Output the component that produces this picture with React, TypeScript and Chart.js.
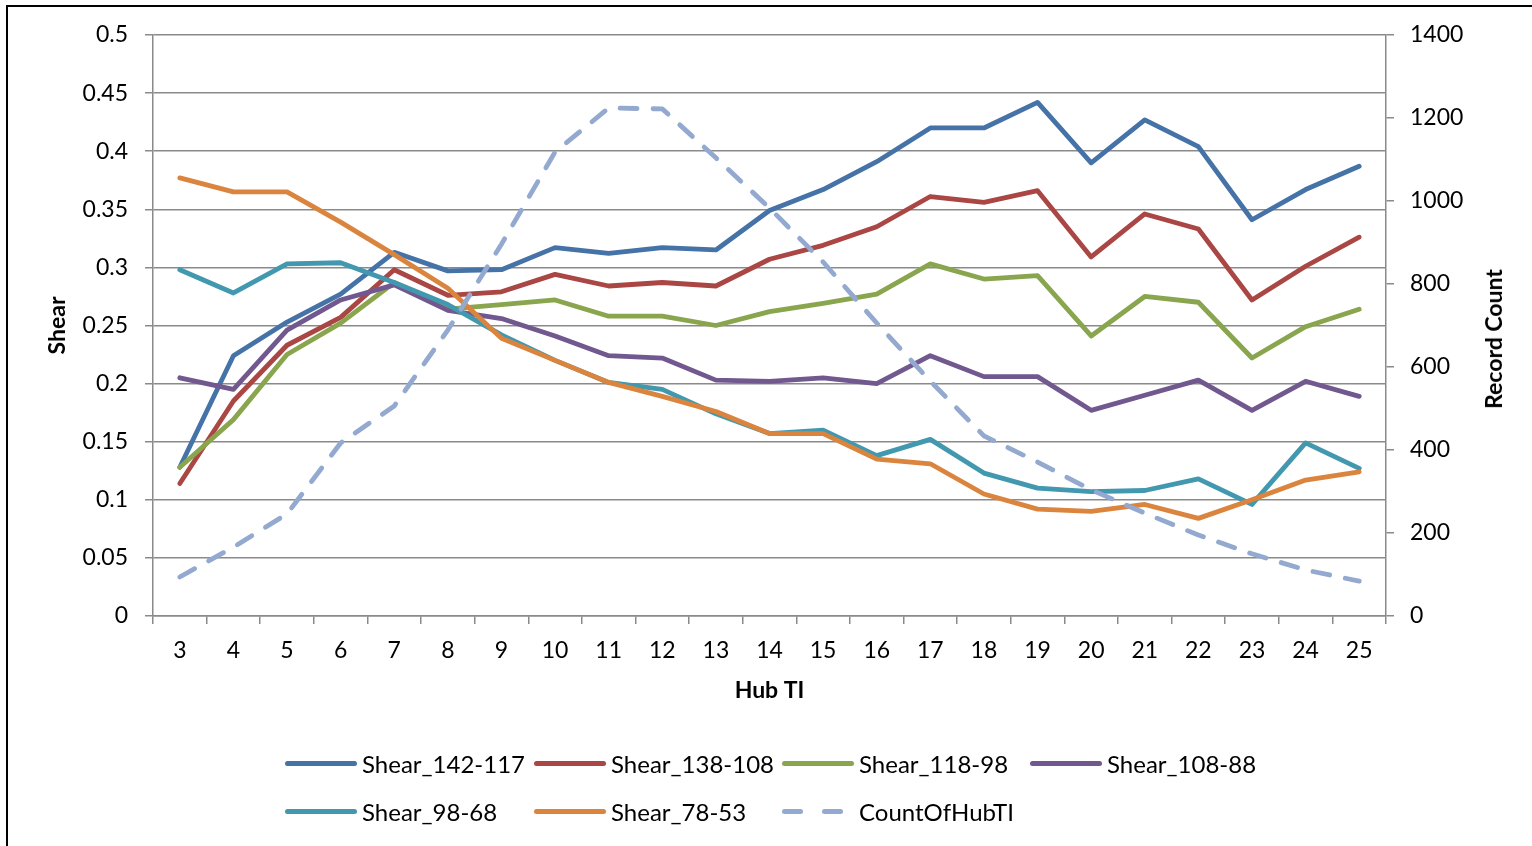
import React, { useEffect, useRef } from "react";
import { Chart, registerables } from "chart.js";

Chart.register(...registerables);

const categories = ["3", "4", "5", "6", "7", "8", "9", "10", "11", "12", "13", "14", "15", "16", "17", "18", "19", "20", "21", "22", "23", "24", "25"];

const shear142_117 = [0.128, 0.224, 0.253, 0.277, 0.313, 0.297, 0.298, 0.317, 0.312, 0.317, 0.315, 0.349, 0.367, 0.391, 0.42, 0.42, 0.442, 0.39, 0.427, 0.404, 0.341, 0.367, 0.387];
const shear138_108 = [0.114, 0.185, 0.233, 0.257, 0.298, 0.276, 0.279, 0.294, 0.284, 0.287, 0.284, 0.307, 0.319, 0.335, 0.361, 0.356, 0.366, 0.309, 0.346, 0.333, 0.272, 0.301, 0.326];
const shear118_98 = [0.128, 0.169, 0.225, 0.252, 0.287, 0.264, 0.268, 0.272, 0.258, 0.258, 0.25, 0.262, 0.269, 0.277, 0.303, 0.29, 0.293, 0.241, 0.275, 0.27, 0.222, 0.249, 0.264];
const shear108_88 = [0.205, 0.195, 0.246, 0.272, 0.285, 0.263, 0.256, 0.241, 0.224, 0.222, 0.203, 0.202, 0.205, 0.2, 0.224, 0.206, 0.206, 0.177, 0.19, 0.203, 0.177, 0.202, 0.189];
const shear98_68 = [0.298, 0.278, 0.303, 0.304, 0.287, 0.268, 0.242, 0.22, 0.201, 0.195, 0.174, 0.157, 0.16, 0.138, 0.152, 0.123, 0.11, 0.107, 0.108, 0.118, 0.096, 0.149, 0.127];
const shear78_53 = [0.377, 0.365, 0.365, 0.339, 0.311, 0.282, 0.239, 0.22, 0.201, 0.189, 0.176, 0.157, 0.157, 0.135, 0.131, 0.105, 0.092, 0.09, 0.096, 0.084, 0.1, 0.117, 0.124];
const countOfHubTI = [94, 166, 246, 417, 506, 689, 896, 1118, 1224, 1222, 1104, 983, 853, 706, 566, 434, 371, 304, 248, 195, 150, 111, 84];

const shearTickLabels = ["0", "0.05", "0.1", "0.15", "0.2", "0.25", "0.3", "0.35", "0.4", "0.45", "0.5"];
const countTickLabels = ["0", "200", "400", "600", "800", "1000", "1200", "1400"];

const seriesNames = ["Shear_142-117", "Shear_138-108", "Shear_118-98", "Shear_108-88", "Shear_98-68", "Shear_78-53", "CountOfHubTI"];
const seriesColors = ["#4572A7", "#AA4643", "#89A54E", "#71588F", "#4198AF", "#DB843D", "#93A9CF"];

const FONT = "Lato, 'Noto Sans', sans-serif";
const GRID = "#8a8a8a";

export default function App() {
  const canvasRef = useRef<HTMLCanvasElement | null>(null);

  useEffect(() => {
    if (!canvasRef.current) return;
    const shearSeries = [shear142_117, shear138_108, shear118_98, shear108_88, shear98_68, shear78_53];
    const datasets: any[] = shearSeries.map((d, i) => ({
      label: seriesNames[i],
      data: d,
      borderColor: seriesColors[i],
      backgroundColor: seriesColors[i],
      borderWidth: 4.8,
      borderCapStyle: "round",
      borderJoinStyle: "round",
      pointRadius: 0,
      tension: 0,
      yAxisID: "y",
      order: 7 - i,
    }));
    datasets.push({
      label: seriesNames[6],
      data: countOfHubTI,
      borderColor: seriesColors[6],
      backgroundColor: seriesColors[6],
      borderWidth: 4.8,
      borderDash: [17, 16],
      borderCapStyle: "round",
      borderJoinStyle: "round",
      pointRadius: 0,
      tension: 0,
      yAxisID: "y1",
      order: 0,
    });

    const tickFont = { family: FONT, size: 23 };
    const titleFont = { family: FONT, size: 23, weight: "bold" as const };

    const chart = new Chart(canvasRef.current, {
      type: "line",
      data: { labels: categories, datasets },
      options: {
        animation: false,
        responsive: false,
        maintainAspectRatio: false,
        layout: { padding: { top: 35, left: 0, right: 0, bottom: 0 } },
        plugins: { legend: { display: false }, tooltip: { enabled: false } },
        scales: {
          x: {
            type: "category",
            offset: true,
            grid: { offset: true, drawOnChartArea: false, tickLength: 8, color: GRID, lineWidth: 1.5 },
            border: { color: GRID, width: 1.5 },
            ticks: { font: tickFont, color: "#000", padding: 13, maxRotation: 0, autoSkip: false },
            title: { display: true, text: "Hub TI", font: titleFont, color: "#000", padding: { top: 0, bottom: 142 } },
            afterFit: (s: any) => { s.height = 230; },
          },
          y: {
            position: "left",
            min: 0,
            max: 0.5,
            ticks: {
              stepSize: 0.05,
              font: tickFont,
              color: "#000",
              padding: 17,
              callback: (_v: any, i: number) => shearTickLabels[i],
            },
            grid: { color: GRID, lineWidth: 1.5, tickLength: 8 },
            border: { color: GRID, width: 1.5 },
            title: { display: true, text: "Shear", font: titleFont, color: "#000", padding: { top: 44, bottom: 0 } },
            afterFit: (s: any) => { s.width = 153; },
          },
          y1: {
            position: "right",
            min: 0,
            max: 1400,
            ticks: {
              stepSize: 200,
              font: tickFont,
              color: "#000",
              padding: 16,
              callback: (_v: any, i: number) => countTickLabels[i],
            },
            grid: { drawOnChartArea: false, color: GRID, lineWidth: 1.5, tickLength: 8 },
            border: { color: GRID, width: 1.5 },
            title: { display: false },
            afterFit: (s: any) => { s.width = 146; },
          },
        },
      } as any,
    });
    return () => chart.destroy();
  }, []);

  const legendItem = (i: number, left: number, top: number) => {
    const dashed = i === 6;
    return (
      <div key={i} style={{ position: "absolute", left, top: top - 16, height: 32, display: "flex", alignItems: "center" }}>
        <div style={{ width: 72, height: 5, position: "relative", marginRight: 5 }}>
          {dashed ? (
            <>
              <div style={{ position: "absolute", left: 0, top: 0, width: 21, height: 5, borderRadius: 3, background: seriesColors[i] }} />
              <div style={{ position: "absolute", left: 40, top: 0, width: 21, height: 5, borderRadius: 3, background: seriesColors[i] }} />
            </>
          ) : (
            <div style={{ position: "absolute", left: 0, top: 0, width: 72, height: 5, borderRadius: 3, background: seriesColors[i] }} />
          )}
        </div>
        <span style={{ fontFamily: FONT, fontSize: 24, color: "#000", whiteSpace: "nowrap" }}>{seriesNames[i]}</span>
      </div>
    );
  };

  const cols = [285, 534, 782, 1030];

  return (
    <div style={{ position: "fixed", left: 0, top: 0, width: 1532, height: 846, overflow: "hidden", background: "#fff" }}>
      <div style={{ position: "absolute", left: 6, top: 5, width: 1600, height: 900, border: "2px solid #000", boxSizing: "border-box" }} />
      <canvas ref={canvasRef} width={1532} height={846} style={{ position: "absolute", left: 0, top: 0, width: 1532, height: 846 }} />
      <div
        style={{
          position: "absolute",
          left: 1493,
          top: 339,
          transform: "translate(-50%, -50%) rotate(-90deg)",
          fontFamily: FONT,
          fontSize: 23,
          fontWeight: "bold",
          color: "#000",
          whiteSpace: "nowrap",
        }}
      >
        Record Count
      </div>
      {legendItem(0, cols[0], 763)}
      {legendItem(1, cols[1], 763)}
      {legendItem(2, cols[2], 763)}
      {legendItem(3, cols[3], 763)}
      {legendItem(4, cols[0], 811)}
      {legendItem(5, cols[1], 811)}
      {legendItem(6, cols[2], 811)}
    </div>
  );
}
